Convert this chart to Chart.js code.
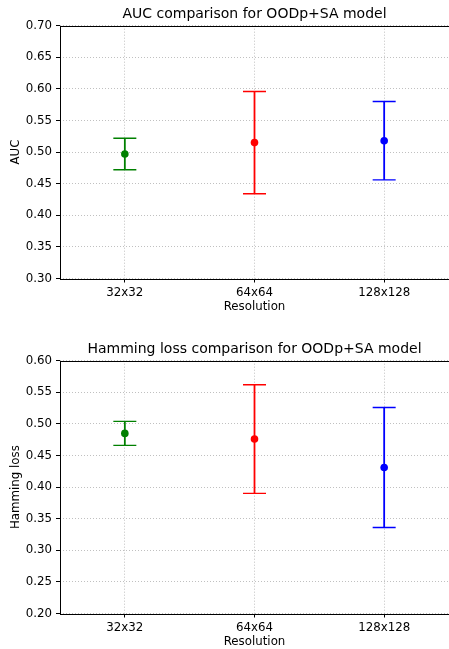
<!DOCTYPE html>
<html>
<head>
<meta charset="utf-8">
<script src="https://cdn.jsdelivr.net/npm/chart.js@4"></script>
<style>
  html, body { margin: 0; padding: 0; background: #fff; overflow: hidden; }
  .box { position: absolute; left: 0; width: 449px; height: 314px; }
</style>
</head>
<body>
<div class="box" style="top:0"><canvas id="aucchart" width="449" height="314"></canvas></div>
<div class="box" style="top:335px"><canvas id="hammingchart" width="449" height="314"></canvas></div>
<script>
const resolutions = ['32x32', '64x64', '128x128'];
const pointColors = ['green', 'red', 'blue'];

const aucMean = [0.497, 0.515, 0.518];
const aucErr = [0.025, 0.081, 0.062];
const aucTicks = { min: 0.30, max: 0.70, step: 0.05 };

const hammingMean = [0.485, 0.476, 0.431];
const hammingErr = [0.019, 0.086, 0.095];
const hammingTicks = { min: 0.20, max: 0.60, step: 0.05 };

const font = 'DejaVu Sans';
const fs = 11.8;

// error bars + caps, drawn under the markers
const errorBars = {
    id: 'errorBars',
    beforeDatasetsDraw(chart) {
        const ctx = chart.ctx;
        const y = chart.scales.y;
        const ds = chart.data.datasets[0];
        chart.getDatasetMeta(0).data.forEach((pt, i) => {
            const top = y.getPixelForValue(ds.data[i] + ds.errors[i]);
            const bot = y.getPixelForValue(ds.data[i] - ds.errors[i]);
            ctx.save();
            ctx.strokeStyle = pointColors[i];
            ctx.lineWidth = 1.8;
            ctx.beginPath();
            ctx.moveTo(pt.x, top);
            ctx.lineTo(pt.x, bot);
            ctx.stroke();
            ctx.lineWidth = 1.4;
            ctx.beginPath();
            ctx.moveTo(pt.x - 11.5, top);
            ctx.lineTo(pt.x + 11.5, top);
            ctx.moveTo(pt.x - 11.5, bot);
            ctx.lineTo(pt.x + 11.5, bot);
            ctx.stroke();
            ctx.restore();
        });
    }
};

// black frame round the plot area, title centred over the plot area
const frame = {
    id: 'frame',
    afterLayout(chart) {
        const t = chart.titleBlock;
        if (t) {
            t.left = chart.chartArea.left;
            t.right = chart.chartArea.right;
            t.width = t.right - t.left;
        }
    },
    afterDraw(chart) {
        const a = chart.chartArea;
        const ctx = chart.ctx;
        ctx.save();
        ctx.strokeStyle = '#000';
        ctx.lineWidth = 1;
        ctx.strokeRect(Math.round(a.left) + 0.5, Math.round(a.top) + 0.5,
            Math.round(a.right - a.left), Math.round(a.bottom - a.top));
        ctx.restore();
    }
};

function makeChart(id, title, yTitle, means, errs, ticks) {
    return new Chart(document.getElementById(id).getContext('2d'), {
        type: 'line',
        data: {
            labels: resolutions,
            datasets: [{
                data: means,
                errors: errs,
                showLine: false,
                pointRadius: 3.8,
                pointHoverRadius: 3.8,
                pointBorderWidth: 0,
                pointBackgroundColor: pointColors
            }]
        },
        options: {
            responsive: false,
            animation: false,
            layout: { padding: 0, autoPadding: false },
            plugins: {
                legend: { display: false },
                tooltip: { enabled: false },
                title: {
                    display: true,
                    text: title,
                    color: '#000',
                    font: { family: font, size: 14, weight: 'normal' },
                    padding: { top: 5.5, bottom: 3.4 }
                }
            },
            scales: {
                x: {
                    offset: true,
                    afterFit: s => { s.height = 35.5; s.paddingLeft = 0; s.paddingRight = 0; },
                    grid: { color: '#b0b0b0', lineWidth: 0.8, offset: false, tickColor: '#000', tickLength: 4, tickWidth: 1 },
                    border: { display: false, dash: [1, 2] },
                    ticks: { color: '#000', padding: 3.5, font: { family: font, size: fs } },
                    title: { display: true, text: 'Resolution', color: '#000', font: { family: font, size: fs }, padding: { top: 0, bottom: -0.5 } }
                },
                y: {
                    min: ticks.min,
                    max: ticks.max,
                    afterFit: s => { s.width = 60; },
                    grid: { color: '#b0b0b0', lineWidth: 0.8, tickColor: '#000', tickLength: 4, tickWidth: 1 },
                    border: { display: false, dash: [1, 2] },
                    ticks: {
                        stepSize: ticks.step,
                        color: '#000',
                        padding: 4,
                        font: { family: font, size: fs },
                        callback: v => v.toFixed(2)
                    },
                    title: { display: true, text: yTitle, color: '#000', font: { family: font, size: fs }, padding: { top: 9, bottom: 0 } }
                }
            }
        },
        plugins: [errorBars, frame]
    });
}

makeChart('aucchart', 'AUC comparison for OODp+SA model', 'AUC', aucMean, aucErr, aucTicks);
makeChart('hammingchart', 'Hamming loss comparison for OODp+SA model', 'Hamming loss', hammingMean, hammingErr, hammingTicks);
</script>
</body>
</html>
